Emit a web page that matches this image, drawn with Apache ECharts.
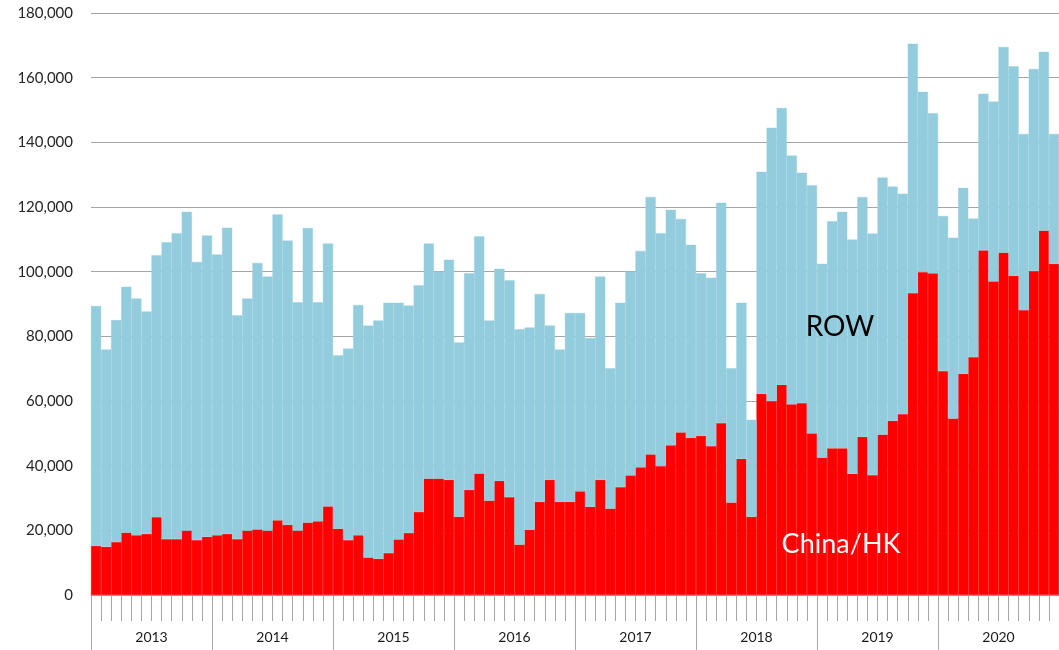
<!DOCTYPE html>
<html>
<head>
<meta charset="utf-8">
<script src="https://cdn.jsdelivr.net/npm/echarts@6/dist/echarts.min.js"></script>
<style>
  html, body { margin: 0; padding: 0; background: #ffffff; }
  #chart { width: 1059px; height: 650px; }
</style>
</head>
<body>
<div id="chart"></div>
<script>
// Years shown on the lower axis
const years = ['2013', '2014', '2015', '2016', '2017', '2018', '2019', '2020'];

// Monthly China/HK values (bottom, red), Jan 2013 .. Dec 2020
const chinaHK = [
  15200, 14900, 16400, 19300, 18500, 18900, 24100, 17300, 17300, 19900, 17000, 18000,
  18500, 18900, 17300, 19900, 20300, 19900, 23100, 21700, 19900, 22400, 22800, 27400,
  20500, 17000, 18500, 11600, 11200, 13000, 17200, 19200, 25700, 36000, 36000, 35600,
  24200, 32500, 37600, 29200, 35300, 30300, 15600, 20200, 28800, 35600, 28800, 28800,
  32100, 27300, 35600, 26700, 33400, 37000, 39500, 43500, 39900, 46300, 50300, 48600,
  49200, 46100, 53200, 28600, 42100, 24200, 62200, 60000, 65000, 59000, 59400, 50000,
  42500, 45400, 45400, 37500, 48900, 37100, 49600, 53900, 56000, 93400, 99900, 99500,
  69300, 54600, 68400, 73600, 106600, 97000, 105900, 98700, 88100, 100200, 112700, 102400
];

// Monthly ROW values (stacked on top, light blue)
const row = [
  74200, 61000, 68600, 76000, 73200, 68800, 81000, 91800, 94600, 98600, 86000, 93200,
  86800, 94700, 69200, 71800, 82400, 78600, 94600, 87900, 70600, 91100, 67700, 81300,
  53600, 59200, 71200, 71700, 73700, 77400, 73200, 70300, 70100, 72700, 64000, 68100,
  53900, 67000, 73300, 55700, 65600, 67000, 66600, 62500, 64300, 47700, 47100, 58400,
  55100, 52200, 62900, 43400, 57000, 63000, 66900, 79600, 72000, 72800, 66000, 59700,
  50300, 52000, 68100, 41500, 48300, 30000, 68700, 84500, 85600, 76900, 71200, 76700,
  59900, 70200, 73100, 72400, 74200, 74700, 79500, 72400, 68100, 77100, 55700, 49500,
  47900, 55900, 57500, 42800, 48400, 55600, 63600, 64800, 54500, 62500, 55300, 40200
];

// Month category labels derived from the years list
const months = [];
years.forEach(function (y) {
  for (let m = 1; m <= 12; m++) months.push(y + '-' + (m < 10 ? '0' + m : m));
});

const chart = echarts.init(document.getElementById('chart'), null, { renderer: 'canvas' });

const gridGray = '#a6a6a6';
const font = 'Lato, "Open Sans", "Liberation Sans", sans-serif';

chart.setOption({
  animation: false,
  backgroundColor: '#ffffff',
  grid: { left: 91, top: 13, width: 973, bottom: 55, containLabel: false },
  xAxis: [
    {
      type: 'category',
      data: months,
      position: 'bottom',
      boundaryGap: true,
      axisLine: { show: true, lineStyle: { color: gridGray, width: 1 } },
      axisTick: { show: true, interval: 0, length: 26, lineStyle: { color: gridGray, width: 1 } },
      axisLabel: { show: false },
      splitLine: { show: false }
    },
    {
      type: 'category',
      data: years,
      position: 'bottom',
      boundaryGap: true,
      axisLine: { show: false },
      axisTick: { show: true, interval: 0, length: 56, lineStyle: { color: gridGray, width: 1 } },
      axisLabel: {
        show: true, interval: 0, margin: 35,
        color: '#1a1a1a', fontSize: 14, fontFamily: font
      },
      splitLine: { show: false }
    }
  ],
  yAxis: {
    type: 'value',
    min: 0,
    max: 180000,
    interval: 20000,
    axisLine: { show: false },
    axisTick: { show: false },
    axisLabel: {
      margin: 18,
      color: '#262626',
      fontSize: 15,
      fontFamily: font,
      formatter: function (v) { return v.toLocaleString('en-US'); }
    },
    splitLine: { show: true, lineStyle: { color: gridGray, width: 1 } }
  },
  series: [
    {
      name: 'China/HK',
      type: 'bar',
      stack: 'total',
      xAxisIndex: 0,
      data: chinaHK,
      barCategoryGap: '0%',
      barGap: '0%',
      itemStyle: { color: '#ff0000', borderColor: '#ff0000', borderWidth: 0.4 }
    },
    {
      name: 'ROW',
      type: 'bar',
      stack: 'total',
      xAxisIndex: 0,
      data: row,
      barCategoryGap: '0%',
      barGap: '0%',
      itemStyle: { color: '#93cddd', borderColor: '#93cddd', borderWidth: 0.4 }
    }
  ],
  graphic: {
    elements: [
      {
        type: 'text', x: 840, y: 327, z: 100, zlevel: 1,
        style: {
          text: 'ROW', fill: '#000000', fontSize: 28, fontFamily: font,
          align: 'center', verticalAlign: 'middle'
        }
      },
      {
        type: 'text', x: 841, y: 544, z: 100, zlevel: 1,
        style: {
          text: 'China/HK', fill: '#ffffff', fontSize: 27, fontFamily: font,
          align: 'center', verticalAlign: 'middle'
        }
      }
    ]
  }
});
</script>
</body>
</html>
